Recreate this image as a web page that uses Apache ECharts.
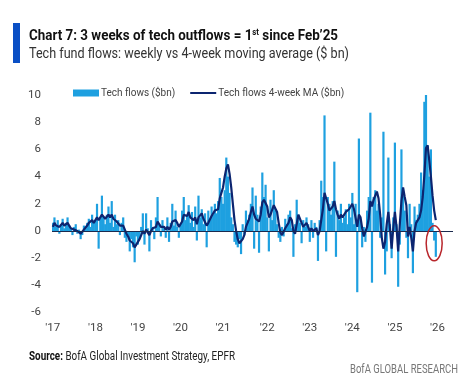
<!DOCTYPE html>
<html>
<head>
<meta charset="utf-8">
<script src="https://cdn.jsdelivr.net/npm/echarts@6/dist/echarts.min.js"></script>
<style>
html,body{margin:0;padding:0;background:#fff;}
#c{width:474px;height:387px;}
</style>
</head>
<body>
<div id="c"></div>
<script>
// Bi-weekly tech fund flows ($bn) and 4-week moving average
var flows2017 = [0.6, 1.0, 0.3, 0.8, -0.2, 0.5, 0.9, 0.2, 0.6, 1.0, 0.4, 0.2, -0.3, 0.3, 0.5, -0.2, 0.1, -0.6, -0.3, 0.4, 0.2, 0.6, 0.9, 0.3, 1.2, 0.6];
var ma2017    = [0.3, 0.6, 0.4, 0.5, 0.3, 0.4, 0.6, 0.4, 0.5, 0.6, 0.4, 0.2, 0.1, 0.1, 0.2, 0.0, 0.0, -0.2, -0.1, 0.1, 0.2, 0.4, 0.6, 0.5, 0.8, 0.6];
var flows2018 = [0.8, 2.0, -1.3, 0.9, 2.6, 1.0, 0.5, 1.2, 1.8, 0.6, 2.2, 0.3, 1.2, 0.5, 0.8, -0.3, 0.6, 1.0, -0.5, -0.8, -0.3, -1.5, -0.6, -1.2, -2.3, -0.4];
var ma2018    = [0.8, 1.0, 0.8, 0.8, 1.2, 1.1, 0.9, 1.0, 1.2, 1.0, 1.2, 0.9, 0.8, 0.7, 0.6, 0.4, 0.4, 0.4, 0.1, -0.2, -0.4, -0.7, -0.8, -0.9, -1.2, -1.0];
var flows2019 = [-1.0, -0.5, 0.3, 1.3, -1.0, 1.3, 0.2, -1.5, 0.8, 0.3, -0.6, 1.0, 2.5, 0.5, -0.4, 0.8, 0.2, -0.5, 1.0, -0.8, 0.6, 2.0, 0.4, 1.5, 0.3, -0.5];
var ma2019    = [-0.8, -0.6, -0.3, 0.0, -0.2, 0.1, 0.0, -0.3, 0.0, 0.2, 0.1, 0.3, 0.7, 0.6, 0.3, 0.4, 0.3, 0.1, 0.3, 0.1, 0.3, 0.7, 0.6, 0.8, 0.6, 0.3];
var flows2020 = [0.5, 1.5, 2.5, 0.8, 1.2, 1.9, 0.6, 1.4, 0.3, 1.8, -0.7, 2.6, 1.0, 1.6, 0.5, 1.3, -1.2, 1.5, 0.8, 1.8, 1.2, 2.0, 1.3, 2.2, 3.9, 2.5];
var ma2020    = [0.4, 0.7, 1.2, 1.1, 1.1, 1.4, 1.0, 1.1, 0.8, 1.0, 0.5, 1.0, 1.1, 1.3, 0.9, 1.0, 0.4, 0.6, 0.7, 1.1, 1.2, 1.5, 1.4, 1.6, 2.4, 2.8];
var flows2021 = [2.0, 3.0, 5.4, 4.0, 2.8, 1.0, 0.5, -0.8, -1.0, -1.2, -0.6, -1.7, 0.5, -0.3, 1.5, 0.8, 1.2, 2.0, 3.2, -1.3, 2.6, 1.2, -1.6, 1.8, 4.3, 2.5];
var ma2021    = [3.2, 4.0, 4.6, 4.9, 4.2, 3.2, 2.0, 0.8, 0.0, -0.6, -0.9, -1.0, -0.6, -0.3, 0.3, 0.6, 0.9, 1.4, 1.8, 1.2, 0.9, 1.0, 0.7, 1.2, 2.1, 2.3];
var flows2022 = [3.4, 1.0, -1.5, 2.3, 0.8, 3.0, 1.5, 0.5, -0.5, -0.8, 0.3, -0.4, 0.9, 0.5, 1.2, 1.5, 0.2, -1.9, 0.5, 2.3, 1.2, 0.6, -0.9, 0.8, 0.3, 1.0];
var ma2022    = [2.2, 1.8, 1.0, 1.2, 1.3, 1.9, 2.0, 1.4, 0.6, -0.1, -0.3, -0.2, 0.2, 0.3, 0.6, 1.0, 0.8, 0.0, -0.2, 0.5, 1.2, 1.3, 0.6, 0.3, 0.4, 0.6];
var flows2023 = [0.5, -0.8, 0.8, -0.5, 0.6, 0.3, -2.2, 0.8, 3.7, 2.5, 8.5, -1.5, 2.5, 2.0, 1.2, 2.2, 5.1, -1.9, 1.5, 0.8, 2.0, 0.6, 1.0, 1.6, 0.5, 2.0];
var ma2023    = [0.3, 0.0, 0.2, 0.0, 0.1, 0.2, -0.3, 0.0, 0.8, 1.6, 2.8, 2.4, 2.0, 1.5, 1.6, 1.8, 2.2, 1.6, 1.2, 0.9, 1.2, 1.0, 1.1, 1.4, 1.3, 1.6];
var flows2024 = [1.0, 2.8, 0.5, 2.0, -4.5, 6.8, 0.8, -1.2, 0.3, -0.8, 1.5, 2.5, 8.7, -3.8, 2.5, 3.0, 1.5, 2.0, -0.5, 1.0, 7.3, -3.2, -1.5, 5.4, 0.5, -2.0];
var ma2024    = [1.8, 2.0, 1.6, 1.5, 0.3, 1.2, 1.0, 0.2, -0.4, -0.3, 0.3, 0.9, 2.2, 1.8, 2.3, 2.6, 2.9, 2.4, 1.2, -0.5, -1.3, -0.8, 0.5, 1.4, 0.2, -1.3];
var flows2025 = [1.0, 6.5, 0.5, -4.1, -1.0, 6.0, 2.6, 1.5, -0.5, -2.0, 2.0, 0.5, -3.1, 1.8, 0.8, 1.2, 2.0, 4.3, 3.0, 9.5, 10.3, 6.3, 4.0, 6.0, 0.6, -0.7];
var ma2025    = [0.2, 1.4, 0.3, -1.5, 0.5, 2.2, 3.2, 2.5, 1.9, -0.4, 0.3, -0.5, -1.5, 0.0, 0.6, 0.8, 1.0, 1.5, 2.5, 4.1, 6.1, 6.3, 5.2, 4.0, 2.6, 1.5];
var flows2026 = [-1.9];
var ma2026    = [0.8];

var yTicks = [-6, -4, -2, 0, 2, 4, 6, 8, 10];
var startDate = '2017-01-06';
var trailingSlots = 10;

var flows = [].concat(flows2017, flows2018, flows2019, flows2020, flows2021, flows2022, flows2023, flows2024, flows2025, flows2026);
var ma = [].concat(ma2017, ma2018, ma2019, ma2020, ma2021, ma2022, ma2023, ma2024, ma2025, ma2026);

function pad(n){return n < 10 ? '0' + n : '' + n;}
var categories = [];
var d0 = new Date(startDate + 'T00:00:00Z');
for (var i = 0; i < flows.length + trailingSlots; i++) {
  var d = new Date(d0.getTime() + i * 14 * 86400000);
  categories.push(d.getUTCFullYear() + '-' + pad(d.getUTCMonth() + 1) + '-' + pad(d.getUTCDate()));
}

var FONT = 'Roboto, "Noto Sans", sans-serif';
var chart = echarts.init(document.getElementById('c'), null, {renderer: 'canvas'});

var option = {
  animation: false,
  backgroundColor: '#fff',
  grid: {left: 52, right: 21, top: 95, bottom: 74.4, outerBoundsMode: 'none', containLabel: false},
  legend: {
    left: 73, top: 88, itemGap: 14, itemWidth: 26, itemHeight: 7, padding: 0,
    textStyle: {fontFamily: FONT, fontSize: 10, color: '#444', padding: [0,0,0,-3]},
    data: [
      {name: 'Tech flows ($bn)', icon: 'rect'},
      {name: 'Tech flows 4-week MA ($bn)', itemStyle: {opacity: 0}}
    ]
  },
  xAxis: {
    type: 'category', data: categories, boundaryGap: true,
    axisLine: {show: false}, axisTick: {show: false},
    axisLabel: {
      fontFamily: FONT, fontSize: 11.5, color: '#444', margin: 10,
      interval: function(idx, val){ return idx === 0 || val.slice(0,4) !== categories[idx-1].slice(0,4); },
      formatter: function(val){ return "'" + val.slice(2,4); }
    }
  },
  yAxis: {
    type: 'value', min: yTicks[0], max: yTicks[yTicks.length-1], interval: 2,
    axisLine: {show: false}, axisTick: {show: false}, splitLine: {show: false},
    axisLabel: {fontFamily: FONT, fontSize: 11.5, color: '#444', margin: 11}
  },
  series: [
    {
      name: 'Tech flows ($bn)', type: 'bar', data: flows, barWidth: 2.2,
      itemStyle: {color: '#1ea0e0'},
      markLine: {
        silent: true, symbol: 'none', label: {show: false},
        lineStyle: {color: '#1b2a4e', width: 1, type: 'solid'},
        data: [{yAxis: 0}]
      }
    },
    {
      name: 'Tech flows 4-week MA ($bn)', type: 'line', data: ma, symbol: 'none',
      lineStyle: {color: '#0c2570', width: 2.2}, itemStyle: {color: '#0c2570'}, z: 3
    }
  ]
};
chart.setOption(option);

// text layout helpers (measure, then squeeze to the reference widths)
var mctx = document.createElement('canvas').getContext('2d');
function tw(str, font){ mctx.font = font; return mctx.measureText(str).width; }

var fTitle = 'bold 15.5px ' + FONT, fSup = 'bold 9px ' + FONT;
var t1 = 'Chart 7: 3 weeks of tech outflows = 1', t2 = 'st', t3 = ' since Feb\u201925';
var w1 = tw(t1, fTitle), w2 = tw(t2, fSup), w3 = tw(t3, fTitle);
var sT = 309 / (w1 + w2 + w3);

var fSub = '15.5px ' + FONT;
var subText = 'Tech fund flows: weekly vs 4-week moving average ($ bn)';
var sSub = 320 / tw(subText, fSub);

var fSrcB = 'bold 12px ' + FONT, fSrc = '12px ' + FONT;
var s1 = 'Source:', s2 = ' BofA Global Investment Strategy, EPFR';
var ws1 = tw(s1, fSrcB), ws2 = tw(s2, fSrc);
var sSrc = 206 / (ws1 + ws2);

var fBofA = '12px ' + FONT, bofa = 'BofA GLOBAL RESEARCH';
var sB = 108 / tw(bofa, fBofA);

var lastIdx = flows.length - 1;
var p = chart.convertToPixel({xAxisIndex: 0, yAxisIndex: 0}, [lastIdx - 0.8, -0.9]);

function txt(x, y, s, str, font, fill){
  return {type: 'text', x: x, y: y, scaleX: s, style: {text: str, font: font, fill: fill, align: 'left', verticalAlign: 'middle'}};
}

chart.setOption({
  graphic: [
    {type: 'rect', left: 13, top: 23, shape: {width: 7, height: 40}, style: {fill: '#0a4fc5'}},
    txt(29, 36, sT, t1, fTitle, '#111'),
    txt(29 + w1 * sT, 33, sT, t2, fSup, '#111'),
    txt(29 + (w1 + w2) * sT, 36, sT, t3, fTitle, '#111'),
    txt(29, 54, sSub, subText, fSub, '#333'),
    txt(29, 356.5, sSrc, s1, fSrcB, '#111'),
    txt(29 + ws1 * sSrc, 356.5, sSrc, s2, fSrc, '#222'),
    txt(350, 370, sB, bofa, fBofA, '#777'),
    {type: 'ellipse', shape: {cx: p[0], cy: p[1], rx: 8, ry: 17.5}, style: {fill: 'none', stroke: '#b8252b', lineWidth: 1.5}, z: 10}
  ]
});
</script>
</body>
</html>
